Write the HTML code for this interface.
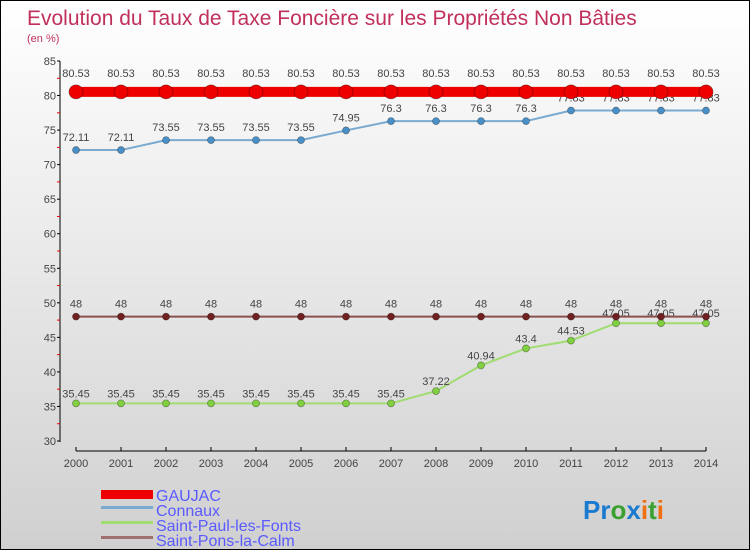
<!DOCTYPE html>
<html><head><meta charset="utf-8"><style>
body{margin:0}
#c{width:750px;height:550px;position:relative;overflow:hidden;box-sizing:border-box;border:1px solid #000;background:linear-gradient(#ffffff,#d0d0d0);font-family:"Liberation Sans",sans-serif}
</style></head><body>
<div id="c">
<svg id="s" width="750" height="550" style="position:absolute;left:0;top:0">
<text x="26" y="24" font-size="21" fill="#c0305a">Evolution du Taux de Taxe Foncière sur les Propriétés Non Bâties</text>
<text x="26" y="41" font-size="11" fill="#c0305a">(en %)</text>
<g id="axes"></g><g id="series"></g>
<g>
<rect x="100" y="489" width="52" height="9" fill="#e00"/>
<text x="155" y="500" font-size="16" fill="#5a5aff">GAUJAC</text>
<rect x="100" y="505" width="52" height="3" fill="#7aaad0"/>
<text x="155" y="515" font-size="16" fill="#5a5aff">Connaux</text>
<rect x="100" y="520" width="52" height="3" fill="#a0dc70"/>
<text x="155" y="530" font-size="16" fill="#5a5aff">Saint-Paul-les-Fonts</text>
<rect x="100" y="535" width="52" height="3" fill="#a07070"/>
<text x="155" y="545" font-size="16" fill="#5a5aff">Saint-Pons-la-Calm</text>
</g>
<text x="582" y="518" font-size="26" font-weight="bold"><tspan fill="#1a7ad0">Pr</tspan><tspan fill="#3aa030">o</tspan><tspan fill="#1a7ad0">x</tspan><tspan fill="#f07010">i</tspan><tspan fill="#3aa030">t</tspan><tspan fill="#f07010">i</tspan></text>
</svg>
</div>
<script>
const years=[2000,2001,2002,2003,2004,2005,2006,2007,2008,2009,2010,2011,2012,2013,2014];
const yTicks=[30,35,40,45,50,55,60,65,70,75,80,85];
const gaujac=[80.53,80.53,80.53,80.53,80.53,80.53,80.53,80.53,80.53,80.53,80.53,80.53,80.53,80.53,80.53];
const connaux=[72.11,72.11,73.55,73.55,73.55,73.55,74.95,76.3,76.3,76.3,76.3,77.83,77.83,77.83,77.83];
const stPaul=[35.45,35.45,35.45,35.45,35.45,35.45,35.45,35.45,37.22,40.94,43.4,44.53,47.05,47.05,47.05];
const stPons=[48,48,48,48,48,48,48,48,48,48,48,48,48,48,48];
const NS="http://www.w3.org/2000/svg";
const X=i=>75+i*45;
const Y=v=>440-(v-30)*380/55;
function mk(t,a,p){const e=document.createElementNS(NS,t);for(const k in a)e.setAttribute(k,a[k]);p.appendChild(e);return e;}
const ax=document.getElementById('axes');
const yl=mk('line',{x1:59,y1:60,x2:59,y2:441,stroke:'#000'},ax);


yTicks.forEach((v,k)=>{
 mk('line',{x1:56,y1:Y(v),x2:59,y2:Y(v),stroke:'#000'},ax);
 if(k<yTicks.length-1) mk('line',{x1:56,y1:Y(v+2.5),x2:59,y2:Y(v+2.5),stroke:'#e00'},ax);
 const t=mk('text',{x:55,y:Y(v)+4,'font-size':11,'text-anchor':'end',fill:'#444'},ax);t.textContent=v;
 
 
});
const xl=mk('line',{x1:75,y1:450,x2:705,y2:450,stroke:'#000'},ax);


years.forEach((y,i)=>{
 mk('line',{x1:X(i),y1:446,x2:X(i),y2:450,stroke:'#000'},ax);
 const t=mk('text',{x:X(i),y:466,'font-size':11,'text-anchor':'middle',fill:'#444'},ax);t.textContent=y;
 
 
});
const sg=document.getElementById('series');
function series(name,data,color,w,r,dot,lblDy){
 const g=mk('g',{},sg);
 
 
 mk('polyline',{points:data.map((v,i)=>X(i)+','+Y(v)).join(' '),fill:'none',stroke:color,'stroke-width':w},g);
 data.forEach((v,i)=>{
  const c=mk('circle',{cx:X(i),cy:Y(v),r:r,fill:dot,stroke:'rgba(0,0,0,0.35)','stroke-width':0.8},g);
  
  
  const t=mk('text',{x:X(i),y:Y(v)+lblDy,'font-size':11,'text-anchor':'middle',fill:'#444'},g);t.textContent=v;
  
  
 });
}
series('series-saint-paul',stPaul,'#a0dc70',2,3.5,'#80d040',-6);
series('series-saint-pons',stPons,'#8a5050',2,3.5,'#702020',-9);
series('series-connaux',connaux,'#7aaad0',2,3.5,'#4a90c8',-9);
series('series-gaujac',gaujac,'#e00',10,7,'#e00',-15);
</script>
</body></html>
